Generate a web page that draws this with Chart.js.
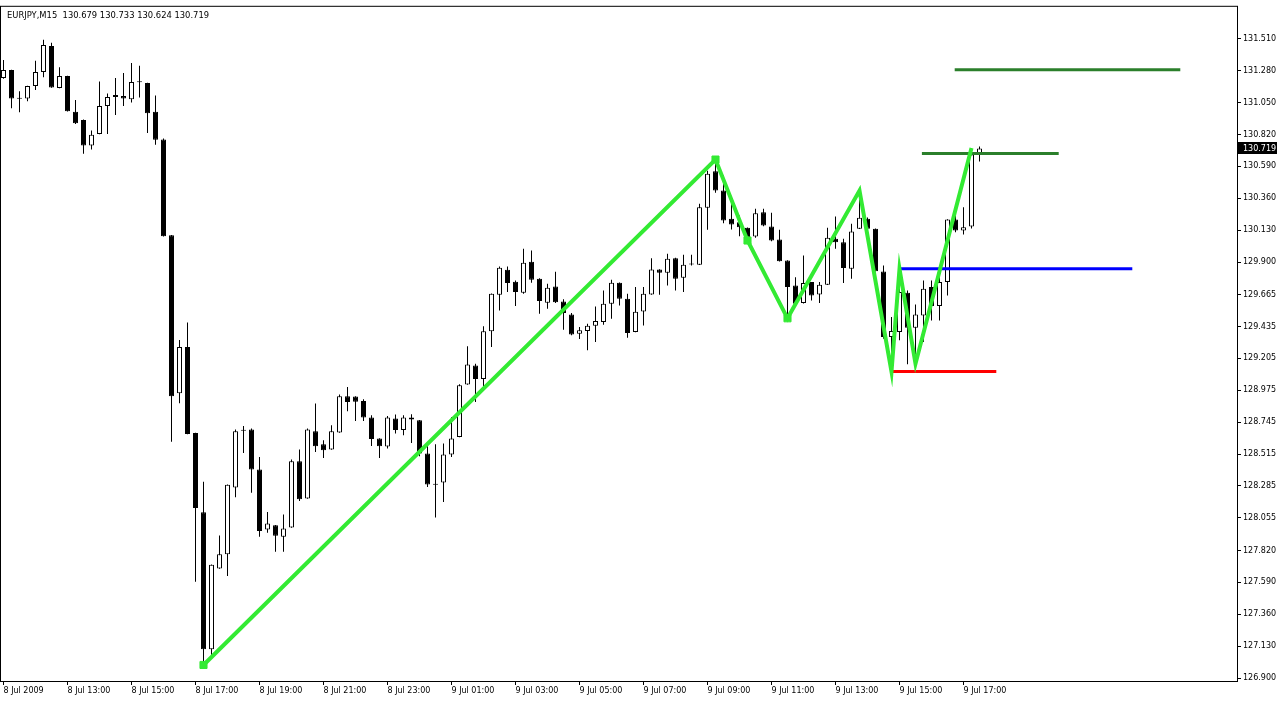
<!DOCTYPE html>
<html>
<head>
<meta charset="utf-8">
<title>EURJPY,M15</title>
<script src="https://cdn.jsdelivr.net/npm/chart.js@4.4.1/dist/chart.umd.min.js"></script>
<style>
    html, body { margin: 0; padding: 0; background: #fff; overflow: hidden; }
    #wrap { position: relative; width: 1277px; height: 704px; }
</style>
</head>
<body>
<div id="wrap"><canvas id="chart"></canvas></div>
<script>
"use strict";

/**----------------------------------------------------------------------
 * [Chart data: M15 candles, 8 Jul 2009 11:00 -> 9 Jul 2009 17:30]
 *--------------------------------------------------------------*/
const symbol = 'EURJPY,M15';

const opens = [
    131.227, 131.285, 131.082, 131.080, 131.170, 131.271, 131.458, 131.155, 131.242, 130.984,
    130.925, 130.740, 130.824, 131.026, 131.090, 131.098, 131.073, 131.196, 131.191, 130.984,
    130.783, 130.093, 128.953, 129.287, 128.666, 128.096, 127.108, 127.690, 127.792, 128.274,
    128.683, 128.692, 128.404, 127.971, 128.002, 127.918, 127.986, 128.463, 128.195, 128.680,
    128.586, 128.548, 128.670, 128.932, 128.930, 128.898, 128.778, 128.627, 128.569, 128.771,
    128.689, 128.778, 128.759, 128.519, 128.298, 128.310, 128.512, 128.638, 129.016, 129.153,
    129.056, 129.400, 129.664, 129.844, 129.758, 129.678, 129.902, 129.779, 129.606, 129.724,
    129.616, 129.522, 129.383, 129.402, 129.441, 129.468, 129.599, 129.751, 129.635, 129.395,
    129.544, 129.666, 129.846, 129.822, 129.928, 129.786, 129.882, 129.880, 130.291, 130.554,
    130.415, 130.212, 130.187, 130.147, 130.084, 130.259, 130.156, 130.063, 129.911, 129.731,
    129.604, 129.755, 129.666, 129.736, 130.067, 130.043, 129.851, 130.140, 130.212, 130.140,
    129.832, 129.359, 129.395, 129.678, 129.426, 129.515, 129.719, 129.582, 129.755, 130.207,
    130.127, 130.156, 130.679
];

const highs = [
    131.357, 131.287, 131.131, 131.172, 131.352, 131.503, 131.481, 131.304, 131.244, 131.069,
    130.927, 130.848, 131.201, 131.116, 131.227, 131.263, 131.335, 131.316, 131.193, 131.100,
    130.790, 130.095, 129.338, 129.464, 128.668, 128.316, 127.718, 127.927, 128.296, 128.692,
    128.717, 128.700, 128.494, 128.098, 128.004, 128.079, 128.476, 128.548, 128.699, 128.879,
    128.615, 128.723, 128.944, 128.999, 128.932, 128.910, 128.795, 128.629, 128.790, 128.800,
    128.795, 128.802, 128.761, 128.591, 128.586, 128.591, 128.783, 129.018, 129.292, 129.167,
    129.436, 129.673, 129.868, 129.868, 129.767, 129.995, 129.983, 129.782, 129.743, 129.830,
    129.632, 129.532, 129.431, 129.455, 129.580, 129.695, 129.772, 129.753, 129.671, 129.719,
    129.719, 129.928, 129.848, 129.959, 129.930, 129.952, 129.952, 130.320, 130.559, 130.639,
    130.523, 130.367, 130.235, 130.149, 130.284, 130.284, 130.255, 130.132, 129.913, 129.791,
    129.947, 129.756, 129.755, 130.147, 130.228, 130.067, 130.176, 130.415, 130.221, 130.142,
    129.875, 129.503, 129.851, 129.695, 129.594, 129.767, 129.767, 129.844, 130.209, 130.284,
    130.295, 130.723, 130.733
];

const lows = [
    131.222, 131.008, 130.980, 131.059, 131.141, 131.232, 131.157, 131.153, 130.985, 130.896,
    130.680, 130.711, 130.822, 130.824, 130.961, 131.026, 131.051, 131.087, 130.831, 130.745,
    130.084, 128.603, 128.882, 128.658, 127.595, 126.994, 127.059, 127.688, 127.635, 128.203,
    128.522, 128.236, 127.918, 127.947, 127.810, 127.810, 127.984, 128.177, 128.193, 128.530,
    128.487, 128.546, 128.668, 128.823, 128.754, 128.754, 128.574, 128.487, 128.555, 128.663,
    128.651, 128.595, 128.499, 128.278, 128.058, 128.170, 128.494, 128.636, 129.014, 128.890,
    128.970, 129.287, 129.551, 129.683, 129.582, 129.671, 129.751, 129.527, 129.563, 129.604,
    129.412, 129.371, 129.344, 129.263, 129.323, 129.448, 129.491, 129.587, 129.354, 129.393,
    129.443, 129.664, 129.664, 129.731, 129.695, 129.683, 129.875, 129.878, 130.132, 130.399,
    130.180, 130.135, 130.086, 130.055, 130.075, 130.158, 130.050, 129.904, 129.494, 129.594,
    129.601, 129.623, 129.604, 129.734, 129.995, 129.748, 129.779, 130.138, 130.106, 129.832,
    129.347, 129.110, 129.335, 129.162, 129.166, 129.323, 129.479, 129.479, 129.659, 130.115,
    130.098, 130.142, 130.624
];

const closes = [
    131.285, 131.080, 131.078, 131.170, 131.271, 131.465, 131.159, 131.242, 130.987, 130.900,
    130.740, 130.817, 131.026, 131.090, 131.105, 131.080, 131.198, 131.200, 130.972, 130.781,
    130.086, 128.932, 129.287, 128.659, 128.126, 127.108, 127.716, 127.792, 128.294, 128.679,
    128.687, 128.404, 127.961, 128.015, 127.925, 127.979, 128.463, 128.190, 128.692, 128.571,
    128.543, 128.680, 128.932, 128.891, 128.893, 128.778, 128.624, 128.571, 128.778, 128.689,
    128.778, 128.764, 128.519, 128.296, 128.294, 128.512, 128.627, 129.011, 129.160, 129.056,
    129.400, 129.671, 129.859, 129.748, 129.683, 129.895, 129.772, 129.618, 129.714, 129.609,
    129.532, 129.378, 129.407, 129.441, 129.474, 129.599, 129.751, 129.635, 129.388, 129.542,
    129.671, 129.846, 129.822, 129.923, 129.779, 129.880, 129.884, 130.295, 130.536, 130.415,
    130.199, 130.171, 130.151, 130.075, 130.252, 130.163, 130.055, 129.906, 129.719, 129.599,
    129.748, 129.659, 129.736, 130.075, 130.043, 129.856, 130.120, 130.219, 130.140, 129.834,
    129.359, 129.402, 129.683, 129.426, 129.522, 129.707, 129.582, 129.755, 130.207, 130.127,
    130.151, 130.675, 130.719
];

// bottom axis: bar index -> time label
const xTickIdx = [0, 8, 16, 24, 32, 40, 48, 56, 64, 72, 80, 88, 96, 104, 112, 120];
const xTickLabels = [
    '8 Jul 2009', '8 Jul 13:00', '8 Jul 15:00', '8 Jul 17:00', '8 Jul 19:00', '8 Jul 21:00',
    '8 Jul 23:00', '9 Jul 01:00', '9 Jul 03:00', '9 Jul 05:00', '9 Jul 07:00', '9 Jul 09:00',
    '9 Jul 11:00', '9 Jul 13:00', '9 Jul 15:00', '9 Jul 17:00'
];

// right price axis
const yTickLabels = [
    '131.510', '131.280', '131.050', '130.820', '130.590', '130.360', '130.130',
    '129.900', '129.665', '129.435', '129.205', '128.975', '128.745', '128.515',
    '128.285', '128.055', '127.820', '127.590', '127.360', '127.130', '126.900'
];

// zigzag vertices (bar index, price)
const zigIdx = [25, 89, 93, 98, 107, 111, 112, 114, 121];
const zigPrice = [126.994, 130.639, 130.055, 129.494, 130.415, 129.110, 129.851, 129.166, 130.723];

// horizontal levels: target 2, target 1, entry, stop
const levelStart = [118.9, 114.8, 112.1, 110.9];
const levelEnd = [147.1, 131.9, 141.1, 124.1];
const levelPrice = [131.287, 130.682, 129.851, 129.110];

/**----------------------------------------------------------------------
 * [Handle app.chartConfig initialization]
 *--------------------------------------------------------------*/
const app = {};
app.chartConfig = {};

app.chartConfig.font = 'DejaVu Sans';
app.chartConfig.zigColor = '#33ea33';
app.chartConfig.levelColors = ['#2b7f2b', '#2b7f2b', '#0000ff', '#ff0000'];

/**----------------------------------------------------------------------
 * [Handle app.chartConfig datasets: zigzag, levels, bodies, wicks]
 *--------------------------------------------------------------*/
app.chartConfig.datasets = function() {
    let sets = [];

    sets.push({
        type: 'line',
        data: zigIdx.map((x, i) => ({x: x, y: zigPrice[i]})),
        borderColor: app.chartConfig.zigColor,
        backgroundColor: app.chartConfig.zigColor,
        borderWidth: 4,
        pointStyle: 'rect',
        pointRadius: zigIdx.map((x, i) => i < 4 ? 5 : 0),
        pointBorderWidth: 1,
        tension: 0,
        order: 0
    });

    levelPrice.forEach(function(p, k) {
        sets.push({
            type: 'line',
            data: [{x: levelStart[k], y: p}, {x: levelEnd[k], y: p}],
            borderColor: app.chartConfig.levelColors[k],
            borderWidth: 3,
            pointRadius: 0,
            order: 1
        });
    });

    sets.push({
        type: 'bar',
        data: opens.map((o, i) => ({x: i, y: [o, closes[i]]})),
        backgroundColor: opens.map((o, i) => closes[i] >= o ? '#ffffff' : '#000000'),
        borderColor: '#000000',
        borderWidth: 1,
        borderSkipped: false,
        barThickness: 5,
        minBarLength: 1,
        grouped: false,
        inflateAmount: 0,
        order: 2
    });

    sets.push({
        type: 'bar',
        data: lows.map((l, i) => ({x: i, y: [l, highs[i]]})),
        backgroundColor: '#000000',
        borderWidth: 0,
        barThickness: 1,
        grouped: false,
        inflateAmount: 0,
        order: 3
    });

    return sets;
};

/**----------------------------------------------------------------------
 * [Handle frame, symbol line and the last price box]
 *--------------------------------------------------------------*/
app.chartConfig.framePlugin = {
    id: 'mtFrame',
    afterDraw(chart) {
        const ctx = chart.ctx;
        const a = chart.chartArea;
        const y = chart.scales.y;
        const last = closes.length - 1;

        ctx.save();
        ctx.strokeStyle = '#000';
        ctx.lineWidth = 1;
        ctx.strokeRect(a.left - 0.5, a.top - 0.5, a.right - a.left + 1, a.bottom - a.top + 1);

        ctx.font = '8.4px "' + app.chartConfig.font + '"';
        ctx.fillStyle = '#000';
        ctx.textBaseline = 'alphabetic';
        ctx.textAlign = 'left';
        let head = symbol + '  ' + [opens[last], highs[last], lows[last], closes[last]].map(v => v.toFixed(3)).join(' ');
        ctx.fillText(head, 7, 18);

        let py = Math.round(y.getPixelForValue(closes[last]));
        ctx.fillStyle = '#000';
        ctx.fillRect(a.right + 1, py - 6, 39, 12);
        ctx.fillStyle = '#fff';
        ctx.font = '8px "' + app.chartConfig.font + '"';
        ctx.textBaseline = 'middle';
        ctx.fillText(closes[last].toFixed(3), a.right + 6, py + 0.5);
        ctx.restore();
    }
};

/**----------------------------------------------------------------------
 * [Handle app.chartConfig scales]
 *--------------------------------------------------------------*/
app.chartConfig.scales = {
    x: {
        type: 'linear',
        min: -0.3125,
        max: 154.1875,
        offset: false,
        border: { display: false },
        grid: { display: true, offset: false, drawOnChartArea: false, drawTicks: true, tickLength: 4, color: '#000' },
        ticks: {
            autoSkip: false,
            maxRotation: 0,
            align: 'start',
            padding: 1,
            color: '#000',
            font: { family: app.chartConfig.font, size: 8 },
            callback: function(value) {
                let k = xTickIdx.indexOf(value);
                return k < 0 ? '' : xTickLabels[k];
            }
        },
        afterBuildTicks: function(scale) {
            scale.ticks = xTickIdx.map(v => ({value: v}));
        },
        afterFit: function(scale) {
            scale.height = 23;
        }
    },
    y: {
        type: 'linear',
        position: 'right',
        min: 126.8784,
        max: 131.7405,
        border: { display: false },
        grid: { display: true, drawOnChartArea: false, drawTicks: true, tickLength: 4, color: '#000' },
        ticks: {
            autoSkip: false,
            padding: 2,
            color: '#000',
            font: { family: app.chartConfig.font, size: 8 },
            callback: function(value, index) {
                return yTickLabels[index];
            }
        },
        afterBuildTicks: function(scale) {
            scale.ticks = yTickLabels.map(s => ({value: parseFloat(s)}));
        },
        afterFit: function(scale) {
            scale.width = 40;
        }
    }
};

/**----------------------------------------------------------------------
 * [handle initialization of the chart with chart.js plugin]
 *--------------------------------------------------------------*/
app.chart = function(selector) {
    new Chart(document.getElementById(selector).getContext('2d'), {
        type: 'bar',
        data: {
            datasets: app.chartConfig.datasets()
        },
        options: {
            responsive: true,
            maintainAspectRatio: false,
            animation: false,
            events: [],
            layout: { autoPadding: false, padding: { left: 1, top: 6, right: 0, bottom: 0 } },
            plugins: {
                legend: { display: false },
                tooltip: { enabled: false },
                title: { display: false }
            },
            scales: app.chartConfig.scales
        },
        plugins: [app.chartConfig.framePlugin]
    });
};

app.chart('chart');
</script>
</body>
</html>
